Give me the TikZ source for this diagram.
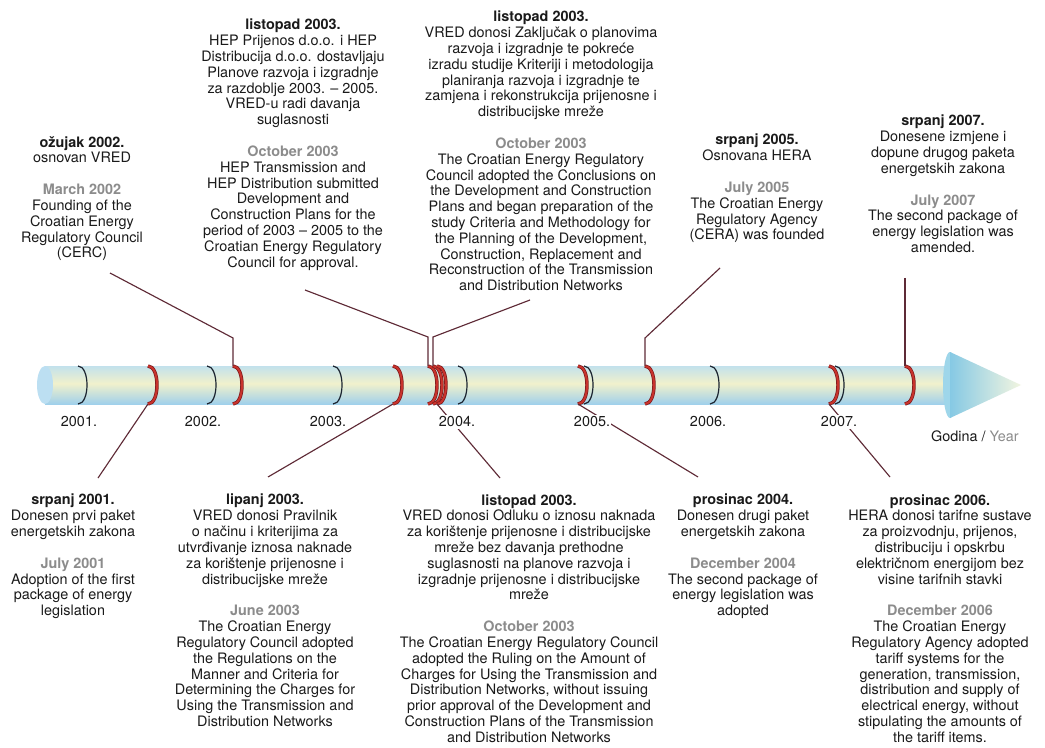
\documentclass[tikz,border=0pt]{standalone}
\usepackage{fontspec}
\setmainfont{TeX Gyre Heros}
\definecolor{engray}{HTML}{8C8C8C}
\definecolor{txt}{HTML}{1A1A1A}
\definecolor{connc}{HTML}{5E2A36}
\definecolor{ringred}{HTML}{C9332C}
\definecolor{ringdark}{HTML}{7E1A1C}
\definecolor{ringblk}{HTML}{1B2430}
\definecolor{tubeTop}{HTML}{8CC5E8}
\definecolor{tubeUp}{HTML}{BCDFF0}
\definecolor{tubeYel}{HTML}{F1F1CC}
\definecolor{tubeLow}{HTML}{A0D0EB}
\definecolor{tubeBot}{HTML}{72B2DF}
\definecolor{capc}{HTML}{BCDFF2}
\definecolor{headL}{HTML}{86C9E4}
\definecolor{headR}{HTML}{F2F5E0}
\definecolor{headBase}{HTML}{9ED6EA}
\pgfdeclareverticalshading{tubeshade}{100bp}{color(0bp)=(tubeBot); color(25bp)=(tubeLow); color(52bp)=(tubeYel); color(78bp)=(tubeUp); color(100bp)=(tubeTop)}
\tikzset{
  blk/.style={align=center, inner sep=0pt, anchor=north, text=txt, font=\fontsize{10.8}{11.85}\selectfont},
  yr/.style={inner sep=1pt, fill=white, text=txt, font=\fontsize{10.8}{12}\selectfont},
  conn/.style={draw=connc, line width=0.85pt},
  ringblack/.style={draw=ringblk, line width=0.9pt},
  ringouter/.style={draw=ringdark, line width=2.6pt},
  ringinner/.style={draw=ringred, line width=1.5pt}
}
\begin{document}
\begin{tikzpicture}[x=0.75pt,y=-0.75pt]
\fill[white] (0,0) rectangle (1045,748);
\useasboundingbox (0,0) rectangle (1045,748);
% tube
\shade[shading=tubeshade] (45,366) rectangle (950,404);
\fill[capc] (45,385) ellipse (8 and 19);
% arrow head
\fill[headBase] (950,385) ellipse (7 and 33);
\shade[left color=headL, right color=headR] (950,352) -- (1021,385) -- (950,418) -- cycle;
% year rings
\foreach \x in {78,207,333,458,584,710,835}
  \draw[ringblack] (\x,366) .. controls (\x+12,366) and (\x+12,404) .. (\x,404);
% event rings
\foreach \x in {148,233,393,428,433,437,578,645,829,905}{
  \draw[ringouter] (\x,366) .. controls (\x+12,366) and (\x+12,404) .. (\x,404);
  \draw[ringinner] (\x,366) .. controls (\x+12,366) and (\x+12,404) .. (\x,404);
}
% ring attachment points
\coordinate (rJul01) at (148,404);
\coordinate (rMar02) at (233,366);
\coordinate (rJun03) at (393,404);
\coordinate (rOctA) at (428,366);
\coordinate (rOctB) at (433,366);
\coordinate (rOctC) at (437,404);
\coordinate (rDec04) at (578,404);
\coordinate (rJul05) at (645,366);
\coordinate (rDec06) at (829,404);
\coordinate (rJul07) at (905,366);
% bends and free ends
\coordinate (eA) at (110,273); \coordinate (kA) at (233,338);
\coordinate (eB) at (305,290); \coordinate (kB) at (428,337);
\coordinate (eC) at (530,300); \coordinate (kC) at (433,337);
\coordinate (eD) at (720,268); \coordinate (kD) at (645,338);
\coordinate (eE) at (905,278);
\coordinate (eF) at (98,478);
\coordinate (eG) at (268,477);
\coordinate (eH) at (500,478);
\coordinate (eI) at (698,477);
\coordinate (eJ) at (890,477);
% connectors
\draw[conn] (eA) -- (kA) -- (rMar02);
\draw[conn] (eB) -- (kB) -- (rOctA);
\draw[conn] (eC) -- (kC) -- (rOctB);
\draw[conn] (eD) -- (kD) -- (rJul05);
\draw[conn] (eE) -- (rJul07);
\draw[conn] (rJul01) -- (eF);
\draw[conn] (rJun03) -- (eG);
\draw[conn] (rOctC) -- (eH);
\draw[conn] (rDec04) -- (eI);
\draw[conn] (rDec06) -- (eJ);
% year labels
\node[yr] (y2001) at (79,422) {2001.};
\node[yr] (y2002) at (203,422) {2002.};
\node[yr] (y2003) at (328,422) {2003.};
\node[yr] (y2004) at (457,422) {2004.};
\node[yr] (y2005) at (592,422) {2005.};
\node[yr] (y2006) at (708,422) {2006.};
\node[yr] (y2007) at (839,422) {2007.};
\node[yr, fill=none] (yearlbl) at (975,436) {Godina / \textcolor{engray}{Year}};
% top blocks
\node[blk] (bA) at (82,136) {\textbf{ožujak 2002.}\\osnovan VRED\\[12pt]\color{engray}\textbf{March 2002}\\Founding of the\\Croatian Energy\\Regulatory Council\\(CERC)};
\node[blk] (bB) at (293,19) {\textbf{listopad 2003.}\\HEP Prijenos d.o.o. i HEP\\Distribucija d.o.o. dostavljaju\\Planove razvoja i izgradnje\\za razdoblje 2003. – 2005.\\VRED-u radi davanja\\suglasnosti\\[12pt]\color{engray}\textbf{October 2003}\\HEP Transmission and\\HEP Distribution submitted\\Development and\\Construction Plans for the\\period of 2003 – 2005 to the\\Croatian Energy Regulatory\\Council for approval.};
\node[blk] (bC) at (541,11) {\textbf{listopad 2003.}\\VRED donosi Zaključak o planovima\\razvoja i izgradnje te pokreće\\izradu studije Kriteriji i metodologija\\planiranja razvoja i izgradnje te\\zamjena i rekonstrukcija prijenosne i\\distribucijske mreže\\[12pt]\color{engray}\textbf{October 2003}\\The Croatian Energy Regulatory\\Council adopted the Conclusions on\\the Development and Construction\\Plans and began preparation of the\\study Criteria and Methodology for\\the Planning of the Development,\\Construction, Replacement and\\Reconstruction of the Transmission\\and Distribution Networks};
\node[blk] (bD) at (757,134) {\textbf{srpanj 2005.}\\Osnovana HERA\\[12pt]\color{engray}\textbf{July 2005}\\The Croatian Energy\\Regulatory Agency\\(CERA) was founded};
\node[blk] (bE) at (943,115) {\textbf{srpanj 2007.}\\Donesene izmjene i\\dopune drugog paketa\\energetskih zakona\\[12pt]\color{engray}\textbf{July 2007}\\The second package of\\energy legislation was\\amended.};
% bottom blocks
\node[blk] (bF) at (73,494) {\textbf{srpanj 2001.}\\Donesen prvi paket\\energetskih zakona\\[12pt]\color{engray}\textbf{July 2001}\\Adoption of the first\\package of energy\\legislation};
\node[blk] (bG) at (265,494) {\textbf{lipanj 2003.}\\VRED donosi Pravilnik\\o načinu i kriterijima za\\utvrđivanje iznosa naknade\\za korištenje prijenosne i\\distribucijske mreže\\[12pt]\color{engray}\textbf{June 2003}\\The Croatian Energy\\Regulatory Council adopted\\the Regulations on the\\Manner and Criteria for\\Determining the Charges for\\Using the Transmission and\\Distribution Networks};
\node[blk] (bH) at (529,494) {\textbf{listopad 2003.}\\VRED donosi Odluku o iznosu naknada\\za korištenje prijenosne i distribucijske\\mreže bez davanja prethodne\\suglasnosti na planove razvoja i\\izgradnje prijenosne i distribucijske\\mreže\\[12pt]\color{engray}\textbf{October 2003}\\The Croatian Energy Regulatory Council\\adopted the Ruling on the Amount of\\Charges for Using the Transmission and\\Distribution Networks, without issuing\\prior approval of the Development and\\Construction Plans of the Transmission\\and Distribution Networks};
\node[blk] (bI) at (743,494) {\textbf{prosinac 2004.}\\Donesen drugi paket\\energetskih zakona\\[12pt]\color{engray}\textbf{December 2004}\\The second package of\\energy legislation was\\adopted};
\node[blk] (bJ) at (940,494) {\textbf{prosinac 2006.}\\HERA donosi tarifne sustave\\za proizvodnju, prijenos,\\distribuciju i opskrbu\\električnom energijom bez\\visine tarifnih stavki\\[12pt]\color{engray}\textbf{December 2006}\\The Croatian Energy\\Regulatory Agency adopted\\tariff systems for the\\generation, transmission,\\distribution and supply of\\electrical energy, without\\stipulating the amounts of\\the tariff items.};
\end{tikzpicture}
\end{document}
